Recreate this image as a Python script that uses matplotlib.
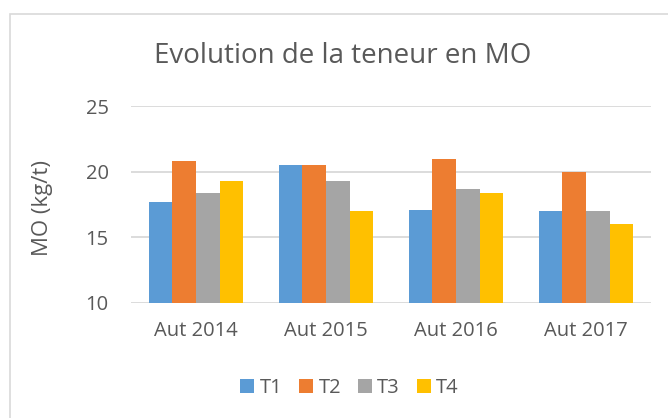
import numpy as np
import matplotlib
matplotlib.use('Agg')
import matplotlib.pyplot as plt
from matplotlib.patches import Rectangle

# Données
annees = ['Aut 2014', 'Aut 2015', 'Aut 2016', 'Aut 2017']
series = ['T1', 'T2', 'T3', 'T4']
t1 = [17.7, 20.5, 17.1, 17.0]
t2 = [20.8, 20.5, 21.0, 20.0]
t3 = [18.4, 19.3, 18.7, 17.0]
t4 = [19.3, 17.0, 18.4, 16.0]
couleurs = ['#5B9BD5', '#ED7D31', '#A5A5A5', '#FFC000']

plt.rcParams['font.family'] = ['Open Sans', 'DejaVu Sans']
gris_texte = '#595959'

W, H = 668, 418
fig = plt.figure(figsize=(W / 100, H / 100), dpi=100)

# Cadre du graphique
fig.patches.append(Rectangle((10 / W, -0.2), 1.2, 1 - 13.7 / H + 0.2,
                             transform=fig.transFigure, fill=False,
                             edgecolor='#D9D9D9', linewidth=1.2))

ax = fig.add_axes([131 / W, 1 - 303 / H, 520 / W, (303 - 106.1) / H])

x = np.arange(len(annees))
largeur = 0.182
valeurs = [t1, t2, t3, t4]
for i, (nom, vals) in enumerate(zip(series, valeurs)):
    ax.bar(x + (i - 1.5) * largeur, vals, largeur, bottom=0, color=couleurs[i],
           label=nom, linewidth=0, zorder=3)

ax.set_ylim(10, 25)
ax.set_xlim(-0.5, 3.5)
ax.set_yticks([10, 15, 20, 25])
ax.set_xticks(x)
ax.set_xticklabels(annees)
ax.yaxis.grid(True, color='#D9D9D9', linewidth=1.3, zorder=0)
ax.set_axisbelow(True)
for s in ax.spines.values():
    s.set_visible(False)
ax.tick_params(axis='both', length=0, labelsize=14.5, colors=gris_texte)
ax.tick_params(axis='y', pad=16)
ax.tick_params(axis='x', pad=13)

fig.text(343 / W, 1 - 56 / H, 'Evolution de la teneur en MO', ha='center',
         va='center', fontsize=20, color=gris_texte)
fig.text(43 / W, 1 - 207.5 / H, 'MO (kg/t)', ha='center', va='center',
         rotation=90, fontsize=16, color=gris_texte)

fig.legend(loc='center', bbox_to_anchor=(349.5 / W, 1 - 387.7 / H), ncol=4,
           frameon=False, fontsize=14.5, labelcolor=gris_texte,
           handlelength=0.7, handleheight=0.7, handletextpad=0.26,
           columnspacing=0.84)

plt.savefig('out.png', dpi=100)
